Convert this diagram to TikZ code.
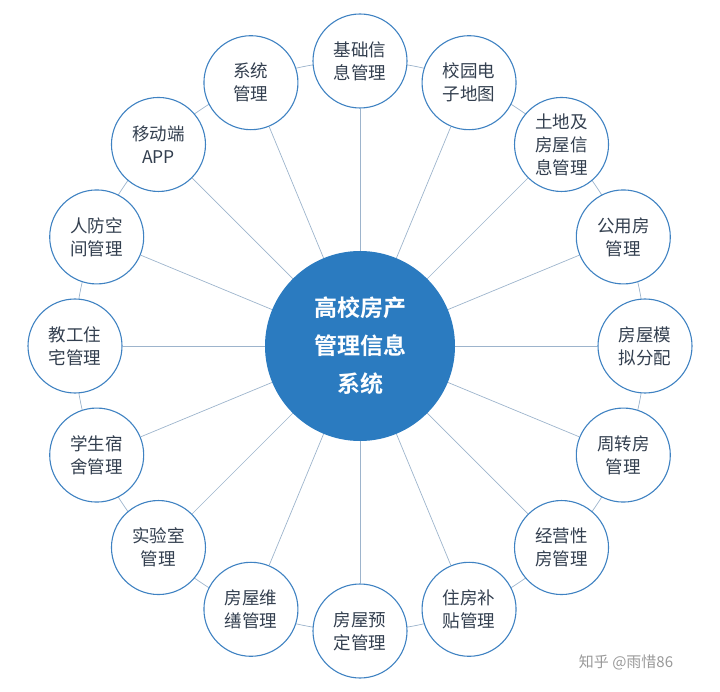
\documentclass[tikz,border=0pt]{standalone}
\usepackage{fontspec}
\newfontfamily\cjk{Noto Sans CJK SC}
\newfontfamily\cjkb{Noto Sans CJK SC Bold}
\definecolor{mainblue}{HTML}{2B7BC0}
\definecolor{edge}{HTML}{3F82C2}
\definecolor{lnk}{HTML}{9DB4CC}
\definecolor{txt}{HTML}{333F4F}
\begin{document}
\begin{tikzpicture}[x=1pt,y=-1pt,
  sat/.style={circle,draw=edge,line width=1.1pt,fill=white,minimum size=94pt,inner sep=0pt,align=center,font=\cjk\fontsize{17.5}{23}\selectfont,text=txt},
  hub/.style={circle,fill=mainblue,minimum size=190pt,inner sep=0pt,align=center,text=white,font=\cjkb\fontsize{23}{38}\selectfont},
  lk/.style={draw=lnk,line width=0.7pt}]
\useasboundingbox (0,0) rectangle (720,692);
\coordinate (c) at (360,346);
\draw[lk] (c) circle (285);
\foreach \a/\t [count=\i] in {90/基础信\\息管理,67.5/校园电\\子地图,45/土地及\\房屋信\\息管理,22.5/公用房\\管理,0/房屋模\\拟分配,-22.5/周转房\\管理,-45/经营性\\房管理,-67.5/住房补\\贴管理,-90/房屋预\\定管理,-112.5/房屋维\\缮管理,-135/实验室\\管理,-157.5/学生宿\\舍管理,180/教工住\\宅管理,157.5/人防空\\间管理,135/移动端\\APP,112.5/系统\\管理}{
  \node[sat] (s\i) at ({360+285*cos(\a)},{346-285*sin(\a)}) {\t};
  \draw[lk] (c) -- (s\i);
}
\node[hub] (h) at (c) {高校房产\\管理信息\\系统};
\node[font=\cjk\fontsize{15}{18}\selectfont,text=gray!80] (wm) at (626,662) {知乎 @雨惜86};
\end{tikzpicture}
\end{document}
